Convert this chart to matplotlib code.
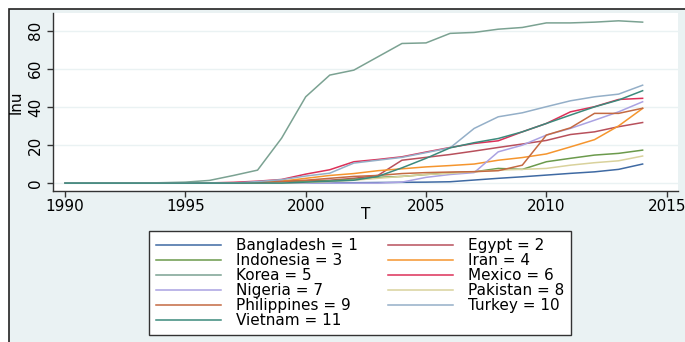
import numpy as np
import matplotlib
matplotlib.use("Agg")
import matplotlib.pyplot as plt
from matplotlib.patches import Rectangle

plt.rcParams['font.family'] = ['DejaVu Sans']
plt.rcParams['font.size'] = 11

years = list(range(1990, 2015))

# lnu by country, 1990-2014
bangladesh = [0, 0, 0, 0, 0, 0, 0, 0, 0, 0, 0.1, 0.1, 0.2, 0.3, 0.4, 0.5, 0.7, 1.6, 2.5, 3.3, 4.2, 5.1, 5.9, 7.2, 10.0]
egypt = [0, 0, 0, 0, 0, 0, 0, 0, 0.5, 1.0, 1.2, 1.5, 2.5, 4.0, 12.0, 13.5, 15.0, 16.8, 18.7, 20.5, 22.4, 25.5, 26.9, 29.6, 31.8]
indonesia = [0, 0, 0, 0, 0, 0, 0, 0, 0.2, 0.4, 0.8, 1.2, 2.0, 3.0, 3.5, 4.5, 5.4, 5.9, 7.7, 7.2, 11.2, 13.0, 14.7, 15.6, 17.3]
iran = [0, 0, 0, 0, 0, 0, 0, 0, 0.3, 1.0, 2.5, 4.0, 5.0, 6.5, 7.5, 8.5, 9.2, 10.0, 12.0, 13.4, 15.3, 19.0, 22.8, 30.0, 39.2]
korea = [0, 0, 0, 0, 0.2, 0.5, 1.4, 4.0, 6.8, 23.6, 45.3, 56.7, 59.3, 66.3, 73.3, 73.6, 78.6, 79.1, 80.8, 81.7, 84.1, 84.1, 84.5, 85.2, 84.5]
mexico = [0, 0, 0, 0, 0, 0, 0.1, 0.4, 1.0, 1.9, 4.7, 7.0, 11.2, 12.4, 13.8, 16.3, 18.7, 20.8, 22.2, 26.9, 31.3, 37.4, 40.1, 43.9, 44.5]
nigeria = [0, 0, 0, 0, 0, 0, 0, 0, 0, 0, 0, 0, 0, 0, 0.5, 3.0, 4.5, 5.5, 16.4, 19.9, 25.2, 28.7, 33.0, 37.4, 42.7]
pakistan = [0, 0, 0, 0, 0, 0, 0, 0, 0, 0.1, 0.3, 0.8, 1.5, 2.5, 3.5, 4.5, 5.1, 6.0, 6.8, 7.2, 7.7, 9.4, 10.7, 11.7, 14.2]
philippines = [0, 0, 0, 0, 0, 0, 0, 0, 0.3, 0.8, 1.5, 2.5, 3.5, 4.0, 5.0, 5.5, 5.8, 6.0, 6.5, 9.4, 25.2, 29.0, 36.6, 36.6, 39.3]
turkey = [0, 0, 0, 0, 0, 0, 0, 0, 0.8, 1.8, 3.7, 5.2, 10.5, 12.0, 13.5, 16.0, 18.5, 28.7, 34.8, 36.9, 40.1, 43.2, 45.3, 46.7, 51.4]
vietnam = [0, 0, 0, 0, 0, 0, 0, 0, 0, 0, 0.5, 1.0, 1.5, 3.5, 8.0, 13.0, 18.5, 21.2, 23.4, 26.9, 31.3, 35.7, 40.0, 43.6, 48.5]

labels = ['Bangladesh = 1', 'Egypt = 2', 'Indonesia = 3', 'Iran = 4', 'Korea = 5',
          'Mexico = 6', 'Nigeria = 7', 'Pakistan = 8', 'Philippines = 9',
          'Turkey = 10', 'Vietnam = 11']
series = [bangladesh, egypt, indonesia, iran, korea, mexico, nigeria,
          pakistan, philippines, turkey, vietnam]
colors = ['#3f6aa3', '#b8505c', '#6b9a4c', '#f5952e', '#7ba292', '#dc3058',
          '#aaa2e2', '#d9d29c', '#c46a42', '#94afc8', '#3c8a7c']

W, H = 685, 342
fig = plt.figure(figsize=(W / 100, H / 100), dpi=100, facecolor='white')

# graph region with frame (cropped on the right and bottom)
fig.add_artist(Rectangle((9 / W, -0.1), 1.2, 1 - 9 / H + 0.1, transform=fig.transFigure,
                         facecolor='#eaf2f3', edgecolor='#222222', linewidth=1.2, zorder=0))

ax = fig.add_axes([53 / W, 1 - 190.7 / H, (678 - 53) / W, (190.7 - 13) / H])
ax.set_facecolor('white')

lines = []
for y, c, lab in zip(series, colors, labels):
    ln, = ax.plot(years, y, color=c, lw=1.1, label=lab)
    lines.append(ln)

ax.set_xlim(1989.5, 2015.47)
ax.set_ylim(-4.0, 89.3)
ax.set_xticks([1990, 1995, 2000, 2005, 2010, 2015])
ax.set_yticks([0, 20, 40, 60, 80])
ax.grid(axis='y', color='#eaf2f3', lw=1.0)
ax.set_axisbelow(True)
for s in ['top', 'right']:
    ax.spines[s].set_visible(False)
for s in ['left', 'bottom']:
    ax.spines[s].set_color('#333333')
    ax.spines[s].set_linewidth(1.0)
ax.tick_params(axis='both', length=4.3, width=1.0, color='#333333', labelsize=11)
ax.tick_params(axis='x', pad=1.5)
ax.tick_params(axis='y', pad=3)
for t in ax.get_yticklabels():
    t.set_rotation(90)
    t.set_va('center')
ax.set_xlabel('T')
ax.set_ylabel('lnu')
ax.xaxis.set_label_coords(0.5, -0.092)
ax.yaxis.set_label_coords(-0.047, 0.5)

# legend, row-wise order like the original
order = [0, 2, 4, 6, 8, 10, 1, 3, 5, 7, 9]
leg = fig.legend([lines[i] for i in order], [labels[i] for i in order],
                 ncol=2, loc='upper left', bbox_to_anchor=(149 / W, 1 - 231 / H),
                 borderaxespad=0, frameon=True, fancybox=False, edgecolor='#333333',
                 framealpha=1, handlelength=4.25, handletextpad=1.0, columnspacing=1.96,
                 labelspacing=0.0, borderpad=0.45, fontsize=11)
leg.get_frame().set_linewidth(1.0)

fig.savefig('out.png', dpi=100, facecolor=fig.get_facecolor())
